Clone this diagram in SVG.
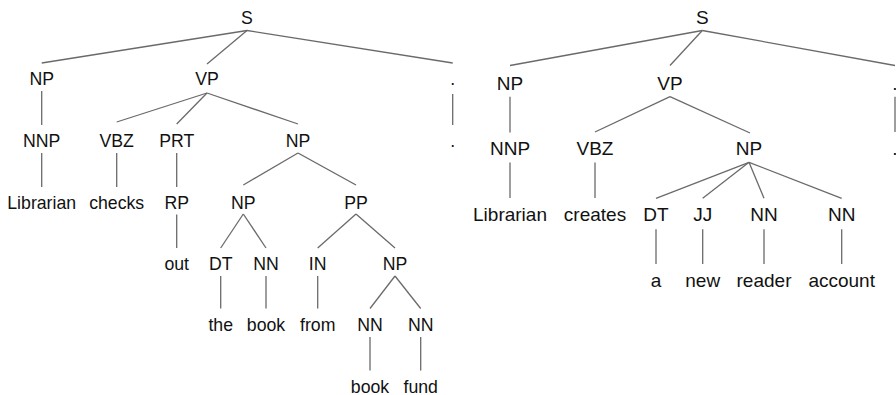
<svg xmlns="http://www.w3.org/2000/svg" width="896" height="395" viewBox="0 0 896 395">
<style>
text{font-family:"Liberation Sans",Arial,sans-serif;fill:#111;text-anchor:middle}
.l text{font-size:17.7px}
.r text{font-size:19px}
.e line{stroke:#6a6a6a;stroke-width:1.3;fill:none}
</style>
<rect width="896" height="395" fill="#fff"/>
<g id="connectors" class="e">
<!-- left tree -->
<line x1="247" y1="30.5" x2="41.7" y2="63"/>
<line x1="247" y1="30.5" x2="207" y2="64"/>
<line x1="247" y1="30.5" x2="452.7" y2="63"/>
<line x1="41.7" y1="91" x2="41.7" y2="125"/>
<line x1="207" y1="93" x2="116.7" y2="122"/>
<line x1="207" y1="93" x2="176.7" y2="124"/>
<line x1="207" y1="93" x2="298" y2="124"/>
<line x1="452.7" y1="94" x2="452.7" y2="125"/>
<line x1="41.7" y1="153" x2="41.7" y2="187"/>
<line x1="116.7" y1="153" x2="116.7" y2="187"/>
<line x1="176.7" y1="153" x2="176.7" y2="187"/>
<line x1="298" y1="153" x2="243.3" y2="185"/>
<line x1="298" y1="153" x2="356" y2="185"/>
<line x1="176.7" y1="214.5" x2="176.7" y2="248"/>
<line x1="243.3" y1="214" x2="220.7" y2="248"/>
<line x1="243.3" y1="214" x2="266" y2="248"/>
<line x1="356" y1="214" x2="317.7" y2="248"/>
<line x1="356" y1="214" x2="395" y2="248"/>
<line x1="220.7" y1="276" x2="220.7" y2="308.5"/>
<line x1="266" y1="276" x2="266" y2="308.5"/>
<line x1="317.7" y1="276" x2="317.7" y2="308.5"/>
<line x1="395" y1="276" x2="370" y2="308.5"/>
<line x1="395" y1="276" x2="420.7" y2="308.5"/>
<line x1="370" y1="337" x2="370" y2="370.5"/>
<line x1="420.7" y1="337" x2="420.7" y2="370.5"/>
<!-- right tree -->
<line x1="702.3" y1="30.5" x2="510" y2="65.5"/>
<line x1="702.3" y1="30.5" x2="670" y2="65.5"/>
<line x1="702.3" y1="30.5" x2="895" y2="65.5"/>
<line x1="510" y1="96.7" x2="510" y2="132.5"/>
<line x1="670" y1="96.7" x2="595" y2="132"/>
<line x1="670" y1="96.7" x2="750" y2="133"/>
<line x1="895" y1="96.7" x2="895" y2="132"/>
<line x1="510" y1="162.5" x2="510" y2="198"/>
<line x1="595" y1="162.5" x2="595" y2="198"/>
<line x1="749" y1="162.3" x2="656" y2="198.3"/>
<line x1="749" y1="162.3" x2="702.7" y2="198.3"/>
<line x1="749" y1="162.3" x2="764" y2="198.3"/>
<line x1="749" y1="162.3" x2="841.7" y2="198.3"/>
<line x1="656" y1="229.3" x2="656" y2="264"/>
<line x1="702.7" y1="229.3" x2="702.7" y2="264"/>
<line x1="764" y1="229.3" x2="764" y2="264"/>
<line x1="841.7" y1="229.3" x2="841.7" y2="264"/>
</g>
<g id="tree1" class="l">
<g id="t1-S"><text x="247" y="23.5">S</text></g>
<g id="t1-NP"><text x="41.7" y="85">NP</text></g>
<g id="t1-VP"><text x="207" y="85">VP</text></g>
<g id="t1-punct"><text x="452.7" y="85">.</text></g>
<g id="t1-NNP"><text x="41.7" y="146.5">NNP</text></g>
<g id="t1-VBZ"><text x="116.7" y="146.5">VBZ</text></g>
<g id="t1-PRT"><text x="176.7" y="146.5">PRT</text></g>
<g id="t1-NP2"><text x="298" y="146.5">NP</text></g>
<g id="t1-punct2"><text x="452.7" y="146.5">.</text></g>
<g id="t1-Librarian"><text x="41.7" y="208.5">Librarian</text></g>
<g id="t1-checks"><text x="116.7" y="208.5">checks</text></g>
<g id="t1-RP"><text x="176.7" y="208.5">RP</text></g>
<g id="t1-NP3"><text x="243.3" y="208.5">NP</text></g>
<g id="t1-PP"><text x="356" y="208.5">PP</text></g>
<g id="t1-out"><text x="176.7" y="269.5">out</text></g>
<g id="t1-DT"><text x="220.7" y="269.5">DT</text></g>
<g id="t1-NN1"><text x="266" y="269.5">NN</text></g>
<g id="t1-IN"><text x="317.7" y="269.5">IN</text></g>
<g id="t1-NP4"><text x="395" y="269.5">NP</text></g>
<g id="t1-the"><text x="220.7" y="331">the</text></g>
<g id="t1-book"><text x="266" y="331">book</text></g>
<g id="t1-from"><text x="317.7" y="331">from</text></g>
<g id="t1-NN2"><text x="370" y="331">NN</text></g>
<g id="t1-NN3"><text x="420.7" y="331">NN</text></g>
<g id="t1-book2"><text x="370" y="392.5">book</text></g>
<g id="t1-fund"><text x="420.7" y="392.5">fund</text></g>
</g>
<g id="tree2" class="r">
<g id="t2-S"><text x="702.3" y="23.5">S</text></g>
<g id="t2-NP"><text x="510" y="90">NP</text></g>
<g id="t2-VP"><text x="670" y="90">VP</text></g>
<g id="t2-punct"><text x="895" y="90">.</text></g>
<g id="t2-NNP"><text x="510" y="155.3">NNP</text></g>
<g id="t2-VBZ"><text x="595" y="155.3">VBZ</text></g>
<g id="t2-NP2"><text x="749" y="155.3">NP</text></g>
<g id="t2-punct2"><text x="895" y="155.3">.</text></g>
<g id="t2-Librarian"><text x="510" y="221.3">Librarian</text></g>
<g id="t2-creates"><text x="595" y="221.3">creates</text></g>
<g id="t2-DT"><text x="656" y="221.3">DT</text></g>
<g id="t2-JJ"><text x="702.7" y="221.3">JJ</text></g>
<g id="t2-NN1"><text x="764" y="221.3">NN</text></g>
<g id="t2-NN2"><text x="841.7" y="221.3">NN</text></g>
<g id="t2-a"><text x="656" y="287">a</text></g>
<g id="t2-new"><text x="702.7" y="287">new</text></g>
<g id="t2-reader"><text x="764" y="287">reader</text></g>
<g id="t2-account"><text x="841.7" y="287">account</text></g>
</g>
</svg>
